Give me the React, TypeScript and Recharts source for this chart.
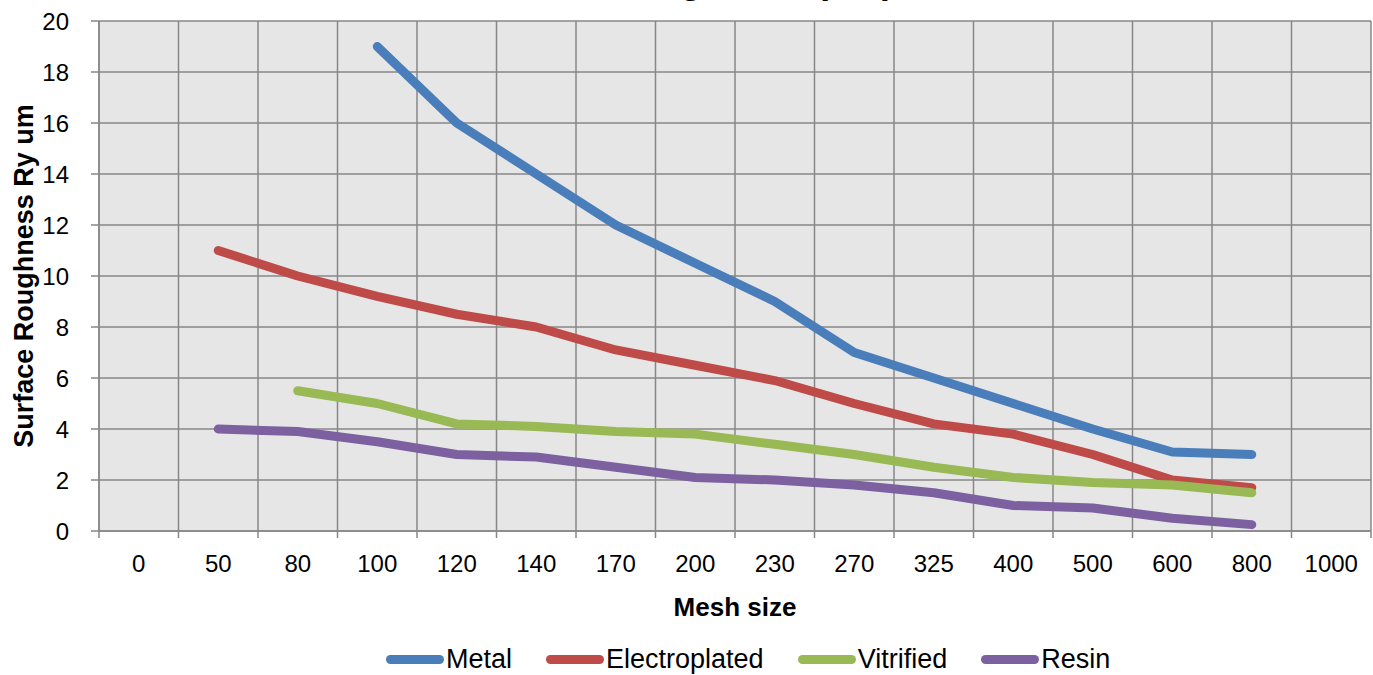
import React from 'react'
import { CartesianGrid, Label, Legend, Line, LineChart, XAxis, YAxis } from 'recharts'

const meshSizes = ['0', '50', '80', '100', '120', '140', '170', '200', '230', '270', '325', '400', '500', '600', '800', '1000']

const metal = [null, null, null, 19, 16, 14, 12, 10.5, 9, 7, 6, 5, 4, 3.1, 3, null]
const electroplated = [null, 11, 10, 9.2, 8.5, 8, 7.1, 6.5, 5.9, 5, 4.2, 3.8, 3, 2, 1.7, null]
const vitrified = [null, null, 5.5, 5, 4.2, 4.1, 3.9, 3.8, 3.4, 3, 2.5, 2.1, 1.9, 1.8, 1.5, null]
const resin = [null, 4, 3.9, 3.5, 3, 2.9, 2.5, 2.1, 2, 1.8, 1.5, 1, 0.9, 0.5, 0.25, null]

const yTicks = [0, 2, 4, 6, 8, 10, 12, 14, 16, 18, 20]

const series = [
    { key: 'metal', name: 'Metal', color: '#4A7EBB' },
    { key: 'electroplated', name: 'Electroplated', color: '#BE4B48' },
    { key: 'vitrified', name: 'Vitrified', color: '#98B954' },
    { key: 'resin', name: 'Resin', color: '#7D60A0' },
]

const data = meshSizes.map((mesh, i) => ({
    mesh,
    metal: metal[i],
    electroplated: electroplated[i],
    vitrified: vitrified[i],
    resin: resin[i],
}))

const W = 1373
const H = 675
const Y_AXIS_W = 99
const RIGHT = 2
const GRID = '#878787'
const TICK_SIZE = 7
const TICK_MARGIN = 17
const HALF_BAND = (W - Y_AXIS_W - RIGHT) / meshSizes.length / 2
const FONT = '"Liberation Sans", Arial, sans-serif'

const MeshTick = (props: any) => {
    const { x, y, payload, index } = props
    const top = y - TICK_SIZE - TICK_MARGIN
    return (
        <g>
            <line x1={x - HALF_BAND} x2={x - HALF_BAND} y1={top} y2={top + TICK_SIZE} stroke={GRID} strokeWidth={1.5} />
            {index === meshSizes.length - 1 && (
                <line x1={x + HALF_BAND} x2={x + HALF_BAND} y1={top} y2={top + TICK_SIZE} stroke={GRID} strokeWidth={1.5} />
            )}
            <text x={x} y={y} dy="0.71em" textAnchor="middle" fontSize={24} fill="#000" fontFamily={FONT}>
                {payload.value}
            </text>
        </g>
    )
}

const YTitle = (props: any) => {
    const { viewBox } = props
    const cx = 24
    const cy = viewBox.y + viewBox.height / 2
    return (
        <text
            transform={`translate(${cx}, ${cy}) rotate(-90)`}
            textAnchor="middle"
            dominantBaseline="central"
            fontSize={27}
            fontWeight="bold"
            fill="#000"
            fontFamily={FONT}
        >
            Surface Roughness Ry um
        </text>
    )
}

const LegendRow = (props: any) => {
    const items = [...(props.payload || [])].sort(
        (a: any, b: any) =>
            series.findIndex((s) => s.name === a.value) - series.findIndex((s) => s.name === b.value)
    )
    return (
        <div style={{ display: 'flex', alignItems: 'center', height: 30, whiteSpace: 'nowrap', fontFamily: FONT }}>
            {items.map((entry: any, i: number) => (
                <div key={entry.value} style={{ display: 'flex', alignItems: 'center', marginLeft: i ? 34 : 0 }}>
                    <span style={{ display: 'inline-block', width: 58, height: 9, borderRadius: 5, background: entry.color }} />
                    <span style={{ fontSize: 27, marginLeft: 2, color: '#000' }}>{entry.value}</span>
                </div>
            ))}
        </div>
    )
}

const App = () => {
    return (
        <div style={{ position: 'absolute', top: 0, left: 0, width: W, height: H, fontFamily: FONT, overflow: 'hidden' }}>
            {/* title sits mostly above the frame, like in the source image */}
            <div
                style={{
                    position: 'absolute',
                    top: -37,
                    left: 0,
                    width: 1362,
                    textAlign: 'center',
                    fontSize: 36,
                    lineHeight: '36px',
                    fontWeight: 'bold',
                    zIndex: 2,
                }}
            >
                Surface Roughness (um)
            </div>
            <LineChart width={W} height={H} data={data} margin={{ top: 21, right: RIGHT, bottom: 0, left: 0 }}>
                <CartesianGrid
                    fill="#E6E6E6"
                    stroke={GRID}
                    strokeWidth={1.5}
                    verticalCoordinatesGenerator={({ offset }: any) =>
                        meshSizes
                            .map((_, i) => offset.left + (i * offset.width) / meshSizes.length)
                            .concat(offset.left + offset.width)
                    }
                />
                <XAxis
                    dataKey="mesh"
                    scale="band"
                    interval={0}
                    height={114}
                    tickSize={TICK_SIZE}
                    tickMargin={TICK_MARGIN}
                    tickLine={{ stroke: 'none' }}
                    axisLine={{ stroke: GRID, strokeWidth: 1.5 }}
                    tick={<MeshTick />}
                >
                    <Label
                        value="Mesh size"
                        position="insideBottom"
                        offset={29}
                        style={{ fontSize: 26, fontWeight: 'bold', fill: '#000', fontFamily: FONT }}
                    />
                </XAxis>
                <YAxis
                    width={Y_AXIS_W}
                    domain={[0, 20]}
                    ticks={yTicks}
                    interval={0}
                    tickSize={8}
                    tickMargin={22}
                    tick={{ fontSize: 24, fill: '#000', fontFamily: FONT }}
                    tickLine={{ stroke: GRID, strokeWidth: 1.5 }}
                    axisLine={{ stroke: GRID, strokeWidth: 1.5 }}
                    label={<YTitle />}
                />
                <Legend
                    verticalAlign="bottom"
                    content={<LegendRow />}
                    wrapperStyle={{ left: 386, top: 644, bottom: 'auto', width: 'auto', height: 30 }}
                />
                {series.map((s) => (
                    <Line
                        key={s.key}
                        type="linear"
                        dataKey={s.key}
                        name={s.name}
                        stroke={s.color}
                        strokeWidth={9}
                        strokeLinecap="round"
                        strokeLinejoin="round"
                        dot={false}
                        activeDot={false}
                        isAnimationActive={false}
                    />
                ))}
            </LineChart>
        </div>
    )
}

export default App
